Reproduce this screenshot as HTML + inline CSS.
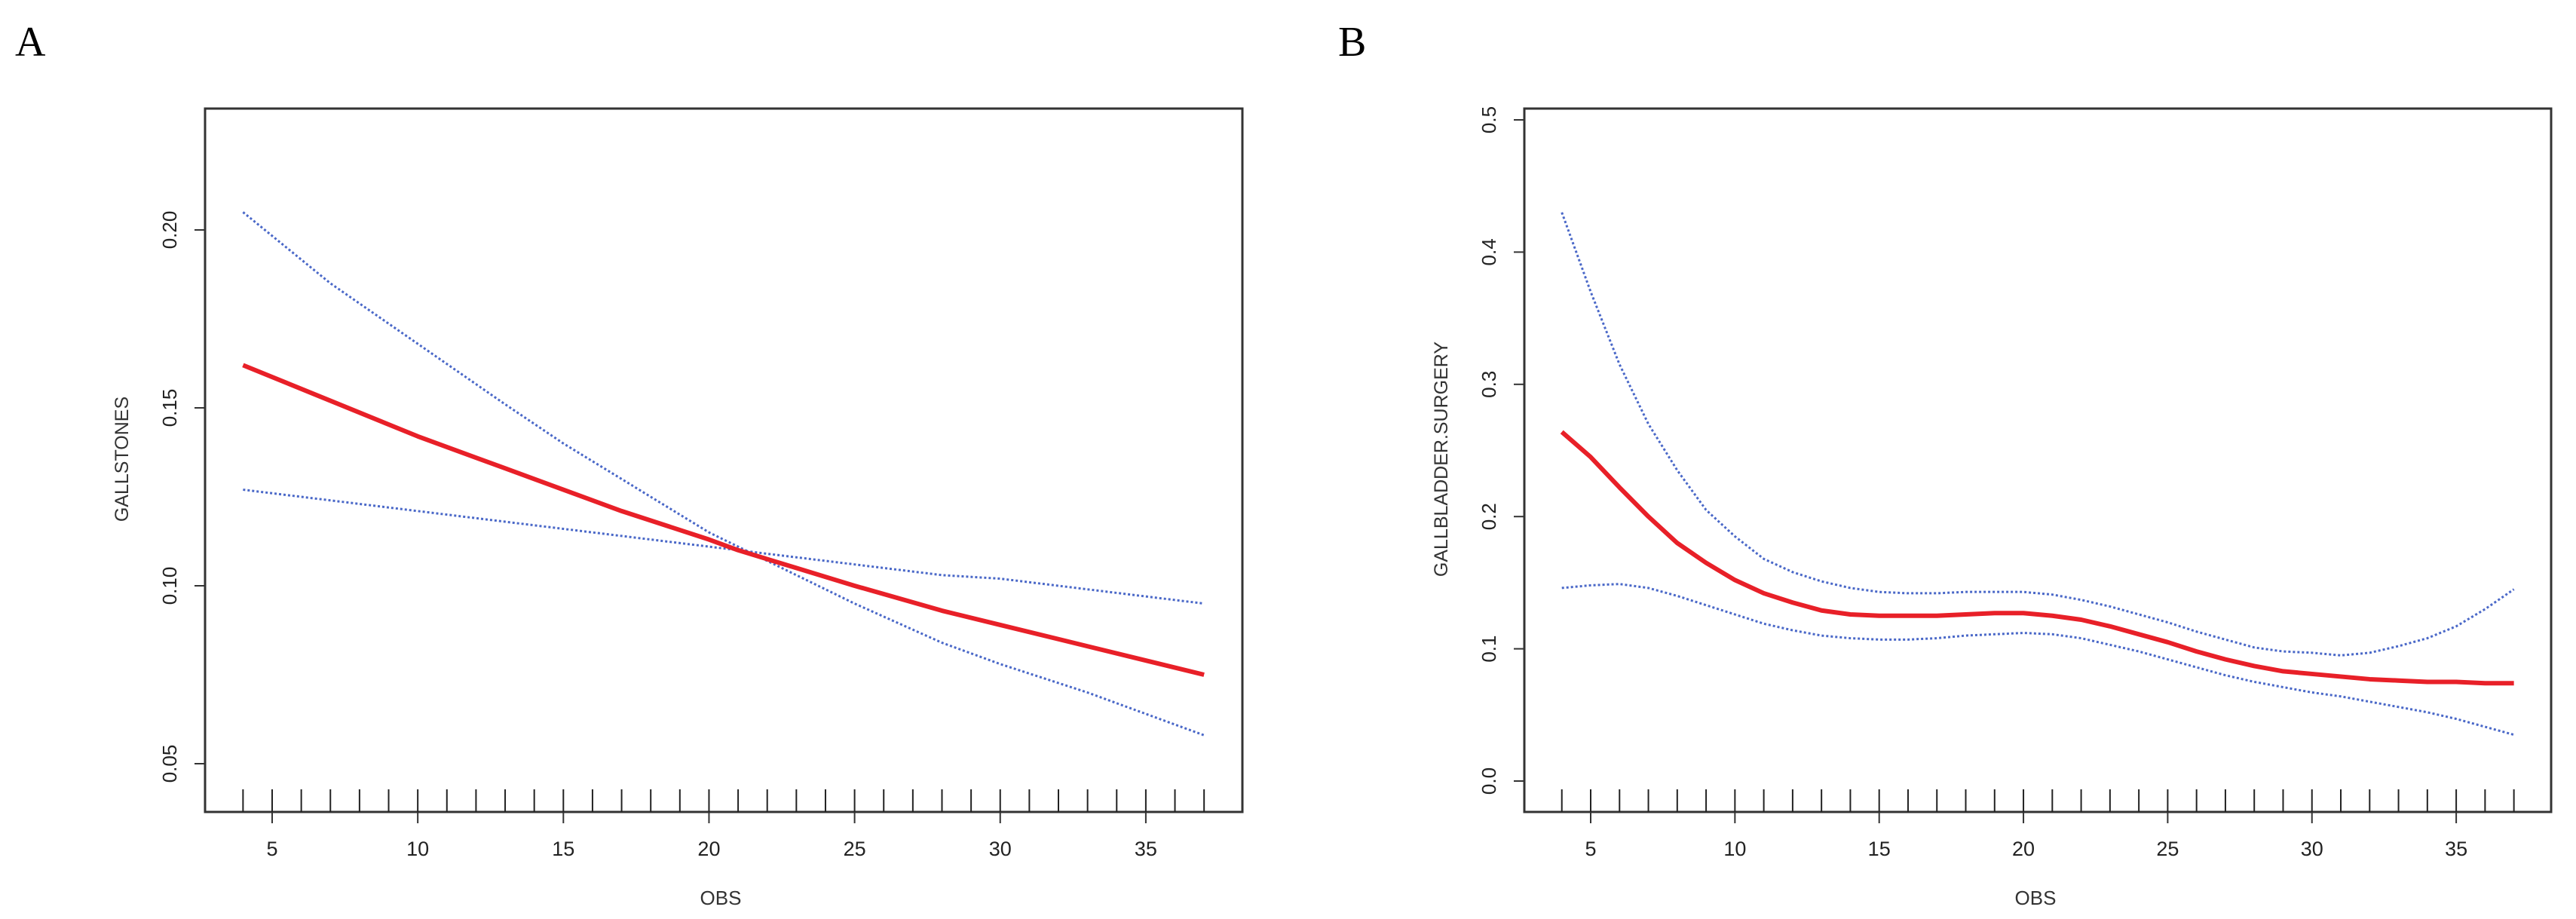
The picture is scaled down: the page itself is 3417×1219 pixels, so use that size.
<!DOCTYPE html>
<html><head><meta charset="utf-8"><style>
html,body{margin:0;padding:0;background:#fff;}
svg{display:block;font-family:"Liberation Sans",sans-serif;}
</style></head><body>
<svg id="c" width="3417" height="1219" viewBox="0 0 3417 1219"></svg>
<script>
const xsA=[4,7,10,13,15,17,20,21,23,25,28,30,33,37];
const redA=[0.162,0.152,0.142,0.133,0.127,0.121,0.113,0.110,0.105,0.100,0.093,0.089,0.083,0.075];
const upA=[0.205,0.185,0.168,0.151,0.140,0.130,0.115,0.111,0.103,0.095,0.084,0.078,0.070,0.058];
const loA=[0.127,0.124,0.121,0.118,0.116,0.114,0.111,0.110,0.108,0.106,0.103,0.102,0.099,0.095];
const ticksYA=[0.05,0.10,0.15,0.20];
const ticksYAlab=["0.05","0.10","0.15","0.20"];
const xsB=[4,5,6,7,8,9,10,11,12,13,14,15,16,17,18,19,20,21,22,23,24,25,26,27,28,29,30,31,32,33,34,35,36,37];
const redB=[0.264,0.245,0.222,0.200,0.180,0.165,0.152,0.142,0.135,0.129,0.126,0.125,0.125,0.125,0.126,0.127,0.127,0.125,0.122,0.117,0.111,0.105,0.098,0.092,0.087,0.083,0.081,0.079,0.077,0.076,0.075,0.075,0.074,0.074];
const upB=[0.430,0.370,0.315,0.270,0.235,0.205,0.185,0.168,0.158,0.151,0.146,0.143,0.142,0.142,0.143,0.143,0.143,0.141,0.137,0.132,0.126,0.120,0.113,0.107,0.101,0.098,0.097,0.095,0.097,0.102,0.108,0.117,0.130,0.145];
const loB=[0.146,0.148,0.149,0.146,0.140,0.133,0.126,0.119,0.114,0.110,0.108,0.107,0.107,0.108,0.110,0.111,0.112,0.111,0.108,0.103,0.098,0.092,0.086,0.080,0.075,0.071,0.067,0.064,0.060,0.056,0.052,0.047,0.041,0.035];
const ticksYB=[0,0.1,0.2,0.3,0.4,0.5];
const ticksYBlab=["0.0","0.1","0.2","0.3","0.4","0.5"];
const ticksX=[5,10,15,20,25,30,35];
const rug=[];for(let i=4;i<=37;i++)rug.push(i);

const NS="http://www.w3.org/2000/svg";
const svg=document.getElementById('c');
function mk(t,a,p){const e=document.createElementNS(NS,t);for(const k in a)e.setAttribute(k,a[k]);(p||svg).appendChild(e);return e;}

function panel(o){
  const g=mk('g',{});
  
  
  const X=v=>o.x0px+(v-o.x0v)*o.xsc;
  const Y=v=>o.y0px-(v-o.y0v)*o.ys;
  const lab=mk('text',{x:o.labX,y:74,'font-family':'Liberation Serif,serif','font-size':56,fill:'#000'},g);
  lab.textContent=o.letter;
  
  
  const box=mk('rect',{x:o.L,y:144,width:o.R-o.L,height:1077-144,fill:'none',stroke:'#333','stroke-width':3},g);
  
  
  o.ty.forEach((v,i)=>{
    const y=Y(v);
    const t=mk('line',{x1:o.L-14,x2:o.L,y1:y,y2:y,stroke:'#333','stroke-width':2},g);
    
    
    const tx=mk('text',{x:0,y:0,transform:`translate(${o.L-38},${y}) rotate(-90)`,'text-anchor':'middle','font-size':26,fill:'#222'},g);
    tx.textContent=o.tyl[i];
    
    
  });
  rug.forEach(v=>{
    const x=X(v);
    const r=mk('line',{x1:x,x2:x,y1:1047,y2:1077,stroke:'#222','stroke-width':2},g);
    
    
  });
  ticksX.forEach(v=>{
    const x=X(v);
    const t=mk('line',{x1:x,x2:x,y1:1077,y2:1092,stroke:'#333','stroke-width':2},g);
    
    
    const tx=mk('text',{x:x,y:1135,'text-anchor':'middle','font-size':27,fill:'#222'},g);
    tx.textContent=String(v);
    
    
  });
  const xt=mk('text',{x:o.xtX,y:1200,'text-anchor':'middle','font-size':26,fill:'#333'},g);
  xt.textContent='OBS';
  
  
  const yt=mk('text',{x:0,y:0,transform:`translate(${o.ytX},609) rotate(-90)`,'text-anchor':'middle','font-size':25,fill:'#333'},g);
  yt.textContent=o.ytitle;
  
  
  function line(xs,vs,st,nm){
    const p=mk('polyline',Object.assign({points:xs.map((x,i)=>X(x)+','+Y(vs[i])).join(' '),fill:'none','stroke-linejoin':'round'},st),g);
    
    
  }
  const dot={stroke:'#4a68c8','stroke-width':3,'stroke-dasharray':'3,3'};
  line(o.xs,o.up,dot,'upper-ci-line');
  line(o.xs,o.lo,dot,'lower-ci-line');
  line(o.xs,o.red,{stroke:'#e82028','stroke-width':6},'fitted-curve');
}
panel({name:'panel-a',letter:'A',labX:20,L:272,R:1648,x0px:361,x0v:5,xsc:38.63,y0px:777,y0v:0.10,ys:4720,ty:ticksYA,tyl:ticksYAlab,xtX:956,ytX:170,ytitle:'GALLSTONES',xs:xsA,red:redA,up:upA,lo:loA});
panel({name:'panel-b',letter:'B',labX:1775,L:2022,R:3384,x0px:2110,x0v:5,xsc:38.27,y0px:1036,y0v:0,ys:1754,ty:ticksYB,tyl:ticksYBlab,xtX:2700,ytX:1920,ytitle:'GALLBLADDER.SURGERY',xs:xsB,red:redB,up:upB,lo:loB});
</script>
</body></html>
